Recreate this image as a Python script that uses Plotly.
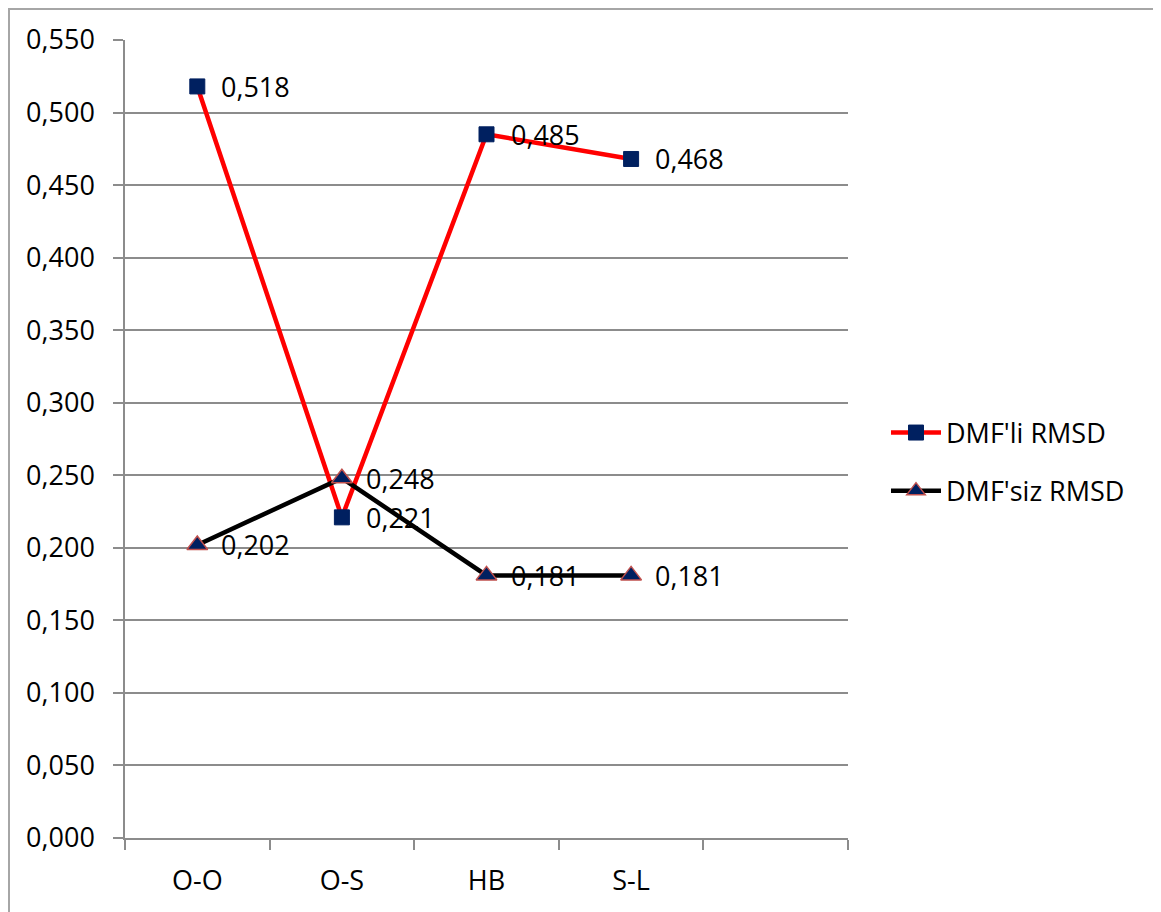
import plotly.graph_objects as go

categories = ["O-O", "O-S", "HB", "S-L"]
extra_category = " "
dmf_li = [0.518, 0.221, 0.485, 0.468]
dmf_siz = [0.202, 0.248, 0.181, 0.181]
series_names = ["DMF'li RMSD", "DMF'siz RMSD"]

def fmt(v):
    return f"{v:.3f}".replace(".", ",")

FONT = "Open Sans"
FS = 27
GRAY = "#8c8c8c"
NAVY = "#002060"

fig = go.Figure()
fig.add_trace(go.Scatter(
    x=categories, y=dmf_li, name=series_names[0], mode="lines+markers",
    line=dict(color="#ff0000", width=4.5),
    marker=dict(symbol="square", size=15, color=NAVY, line=dict(color=NAVY, width=1)),
    legendgroup="a", cliponaxis=False,
))
fig.add_trace(go.Scatter(
    x=categories, y=dmf_siz, name=series_names[1], mode="lines+markers",
    line=dict(color="#000000", width=4.5),
    marker=dict(symbol="triangle-up", size=18, color=NAVY, line=dict(color="#c0504d", width=1.5)),
    legendgroup="b", cliponaxis=False,
))

for series in (dmf_li, dmf_siz):
    for c, v in zip(categories, series):
        fig.add_annotation(x=c, y=v, text=fmt(v), showarrow=False,
                           xanchor="left", yanchor="middle", xshift=22,
                           font=dict(family=FONT, size=FS, color="#000000"))

# page offset of 8px (body margin)
W, H = 1153, 904
L, R, T, B = 117, 840, 32, 830
pw, ph = R - L, B - T

def px(x):
    return (x - 8 - L) / pw

def py(y):
    return (B - (y - 8)) / ph

fig.add_shape(type="rect", xref="paper", yref="paper",
              x0=px(9), x1=px(1159), y0=py(930), y1=py(9),
              line=dict(color="#a6a6a6", width=2), fillcolor="rgba(0,0,0,0)", layer="below")

fig.update_layout(
    width=W, height=H,
    margin=dict(l=L, r=W - R, t=T, b=H - B, autoexpand=False),
    paper_bgcolor="white", plot_bgcolor="white",
    separators=",.",
    font=dict(family=FONT, size=FS, color="#000000"),
    showlegend=True,
    legend=dict(x=px(886), y=py(462), xanchor="left", yanchor="middle",
                traceorder="grouped", tracegroupgap=20, itemwidth=50,
                font=dict(family=FONT, size=FS), bgcolor="rgba(0,0,0,0)"),
)
fig.update_xaxes(
    type="category", categoryorder="array", categoryarray=categories + [extra_category],
    range=[-0.5, 4.5], tickson="boundaries", ticks="outside", ticklen=10,
    tickcolor=GRAY, tickwidth=1.5, showline=True, linecolor=GRAY, linewidth=1.5,
    showgrid=False, zeroline=False, ticklabelstandoff=18, automargin=False,
    tickfont=dict(family=FONT, size=FS),
)
fig.update_yaxes(
    range=[0, 0.55], dtick=0.05, tick0=0, tickformat=".3f",
    ticks="outside", ticklen=10, tickcolor=GRAY, tickwidth=1.5,
    showline=True, linecolor=GRAY, linewidth=1.5,
    showgrid=True, gridcolor=GRAY, gridwidth=1.5, zeroline=False,
    ticklabelstandoff=13, automargin=False, tickfont=dict(family=FONT, size=FS),
)

fig.write_html("out.html")
